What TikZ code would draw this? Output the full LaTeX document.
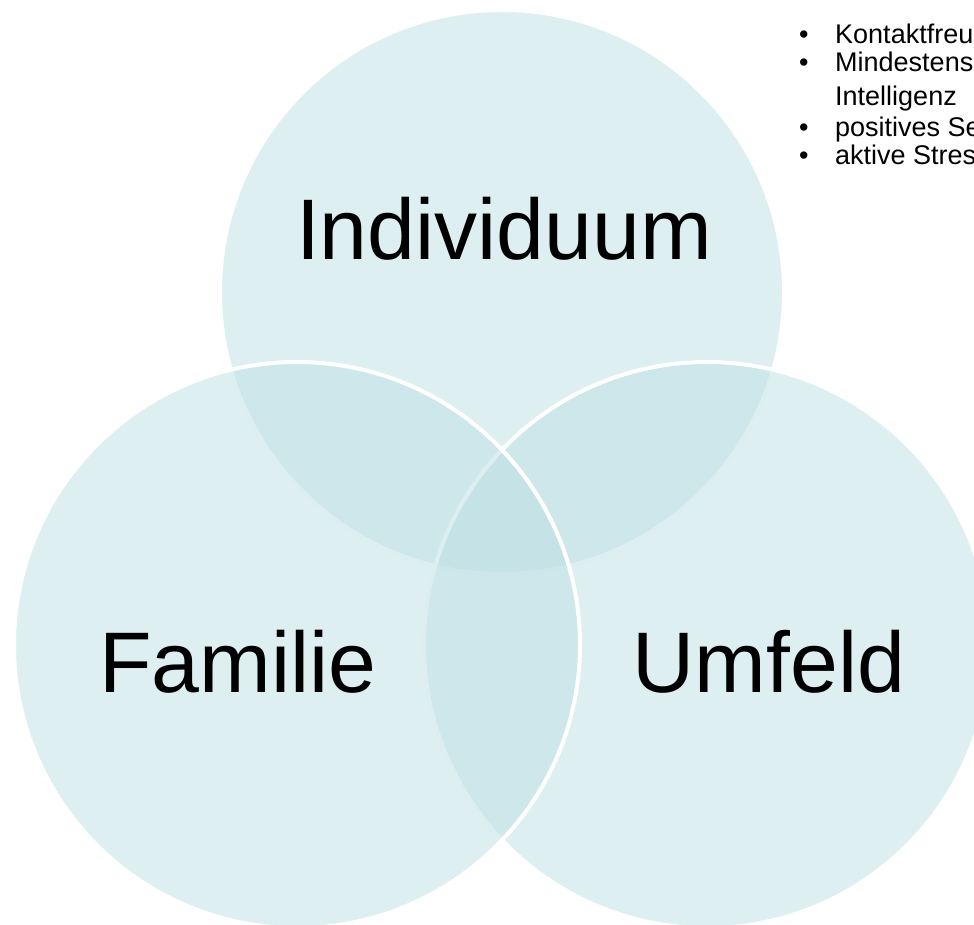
\documentclass[tikz,border=0pt]{standalone}
\usepackage{fontspec}
\setmainfont{Liberation Sans}
\usetikzlibrary{positioning}
\definecolor{vennfill}{RGB}{189,223,227}

\begin{document}
\begin{tikzpicture}[x=1pt, y=-1pt,
    set/.style={draw=white, line width=4pt, fill=vennfill, fill opacity=0.5},
    setname/.style={inner sep=0pt, anchor=base, font=\fontsize{86}{100}\selectfont},
    dot/.style={inner sep=0pt, anchor=base west, font=\fontsize{27}{31}\selectfont},
    item/.style={inner sep=0pt, anchor=base west, font=\fontsize{27}{31}\selectfont}]
      \useasboundingbox (0,0) rectangle (974,925);
      \clip (0,0) rectangle (974,925);
      % the three sets, top first
      \draw[set] (502,292) circle [radius=282pt];
      \draw[set] (707,645) circle [radius=283pt];
      \draw[set] (297,645) circle [radius=283pt];
      \node[setname] (indiv) at (504,260) {Individuum};
      \node[setname] (fam) at (238,692) {Familie};
      \node[setname] (umf) at (769,692) {Umfeld};
      % list in the corner
      \node[dot] (d1) at (799,44) {•};
      \node[item] (t1) at (835,44) {Kontaktfreude};
      \node[dot] (d2) at (799,72) {•};
      \node[item] (t2) at (835,72) {Mindestens};
      \node[item] (t2b) at (835,106) {Intelligenz};
      \node[dot] (d3) at (799,137) {•};
      \node[item] (t3) at (835,137) {positives Selbstkonzept};
      \node[dot] (d4) at (799,165) {•};
      \node[item] (t4) at (835,165) {aktive Stressbewältigung};
\end{tikzpicture}
\end{document}
